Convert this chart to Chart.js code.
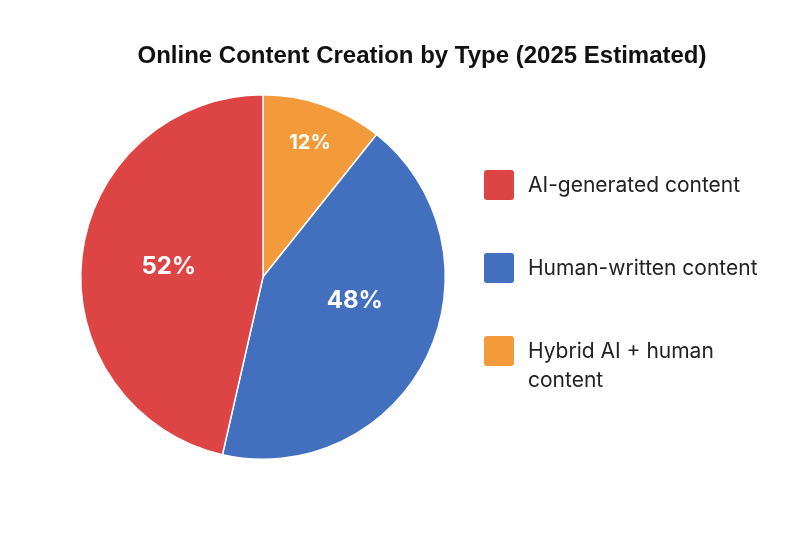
<!DOCTYPE html>
<html>
<head>
<meta charset="utf-8">
<script src="https://cdn.jsdelivr.net/npm/chart.js@4"></script>
<style>
	body { margin: 0; background: #fff; font-family: Inter, "Noto Sans", sans-serif; }
	#wrap { position: relative; width: 800px; height: 533px; }
	#title { position: absolute; left: 0; top: 41px; width: 844px; text-align: center; font: bold 24px "Liberation Sans", Arial, sans-serif; color: #111; }
	#legend { position: absolute; left: 484px; top: 170px; }
	.item { display: flex; align-items: flex-start; margin-bottom: 53px; font-size: 21px; color: #222; line-height: 29px; }
	.box { width: 30px; height: 30px; border-radius: 3px; margin-right: 14px; flex: none; }
</style>
</head>
<body>
<div id="wrap">
	<canvas id="pie" width="800" height="533"></canvas>
	<div id="title">Online Content Creation by Type (2025 Estimated)</div>
	<div id="legend"></div>
</div>
<script>
// drawn clockwise from the top: hybrid, human, AI
const labels = ["Hybrid AI + human content", "Human-written content", "AI-generated content"];
const values = [12, 48, 52];
const colors = ["#f39a3a", "#4270bf", "#dd4545"];
const labelRadius = [0.78, 0.52, 0.52];

const legendOrder = [2, 1, 0];
const legendText = ["AI-generated content", "Human-written content", "Hybrid AI + human<br>content"];
const legendEl = document.getElementById("legend");
legendOrder.forEach(function (idx, i) {
	legendEl.innerHTML += `<div class="item"><span class="box" style="background:${colors[idx]}"></span><span>${legendText[i]}</span></div>`;
});

const valueLabels = {
	id: "valueLabels",
	afterDatasetsDraw(chart) {
		const ctx = chart.ctx;
		const meta = chart.getDatasetMeta(0);
		ctx.save();
		ctx.fillStyle = "#fff";
		ctx.textAlign = "center";
		ctx.textBaseline = "middle";
		meta.data.forEach(function (arc, i) {
			const mid = (arc.startAngle + arc.endAngle) / 2 - (i === 1 ? 0.2 : 0);
			const r = arc.outerRadius * labelRadius[i];
			ctx.font = i === 0 ? "bold 20px Inter, 'Noto Sans', sans-serif" : "bold 24px Inter, 'Noto Sans', sans-serif";
			ctx.fillText(values[i] + "%", arc.x + Math.cos(mid) * r, arc.y + Math.sin(mid) * r);
		});
		ctx.restore();
	},
};

new Chart(document.getElementById("pie").getContext("2d"), {
	type: "pie",
	data: {
		labels: labels,
		datasets: [
			{
				data: values,
				backgroundColor: colors,
				borderColor: "#fff",
				borderWidth: 1.5,
			},
		],
	},
	options: {
		responsive: false,
		animation: false,
		layout: { padding: { left: 80, right: 354, top: 94, bottom: 73 } },
		plugins: {
			legend: { display: false },
			tooltip: { enabled: false },
			title: { display: false },
		},
	},
	plugins: [valueLabels],
});
</script>
</body>
</html>
